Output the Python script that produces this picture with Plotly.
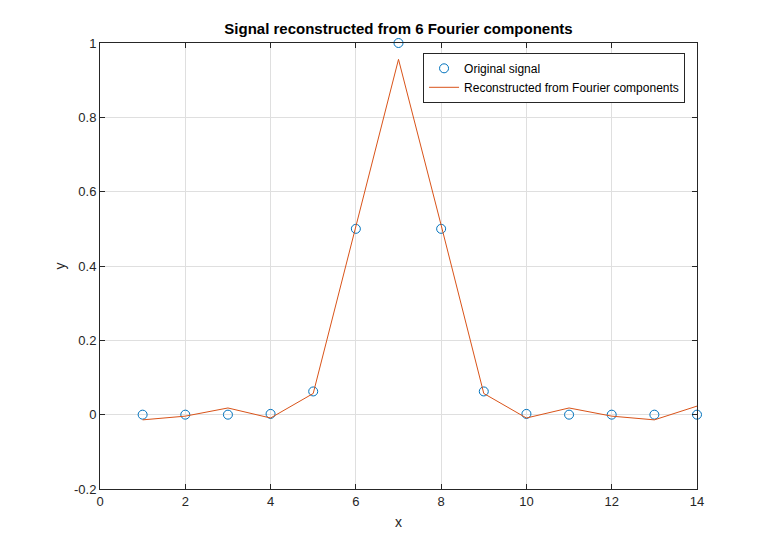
import plotly.graph_objects as go

x_vals = list(range(1, 15))
original = [0, 0, 0, 0.002, 0.0625, 0.5, 1.0, 0.5, 0.0625, 0.002, 0, 0, 0, 0]
reconstructed = [-0.014, -0.004, 0.018, -0.009, 0.057, 0.51, 0.956, 0.51, 0.057, -0.009, 0.018, -0.004, -0.014, 0.023]

x_ticks = [0, 2, 4, 6, 8, 10, 12, 14]
x_ticklabels = ["0", "2", "4", "6", "8", "10", "12", "14"]
y_ticks = [-0.2, 0, 0.2, 0.4, 0.6, 0.8, 1]
y_ticklabels = ["-0.2", "0", "0.2", "0.4", "0.6", "0.8", "1"]

axis_color = "#262626"
font_family = "Liberation Sans, Arial, sans-serif"

fig = go.Figure()
fig.add_trace(go.Scatter(
    x=x_vals, y=original, mode="markers", name="Original signal",
    marker=dict(symbol="circle-open", size=9, color="#0072BD", line=dict(width=1, color="#0072BD")),
    cliponaxis=False,
))
fig.add_trace(go.Scatter(
    x=x_vals, y=reconstructed, mode="lines", name="Reconstructed from Fourier components",
    line=dict(color="#D95319", width=1),
))

axis_common = dict(
    showline=True, linecolor=axis_color, linewidth=1, mirror="ticks",
    ticks="inside", ticklen=5, tickcolor=axis_color,
    showgrid=True, gridcolor="#DFDFDF", gridwidth=1,
    zeroline=False,
    tickfont=dict(family=font_family, size=13, color=axis_color),
)

fig.update_layout(
    width=770, height=550,
    paper_bgcolor="white", plot_bgcolor="white",
    margin=dict(l=92, r=81, t=35, b=69),
    font=dict(family=font_family, size=13, color=axis_color),
    title=dict(text="<b>Signal reconstructed from 6 Fourier components</b>",
               x=0.5, xanchor="center", y=0.963, yanchor="middle",
               xref="paper",
               font=dict(family=font_family, size=15, color="#000000")),
    xaxis=dict(range=[0, 14], tickvals=x_ticks, ticktext=x_ticklabels,
               title=dict(text="x", font=dict(size=14, color=axis_color), standoff=9),
               **axis_common),
    yaxis=dict(range=[-0.2, 1], tickvals=y_ticks, ticktext=y_ticklabels,
               title=dict(text="y", font=dict(size=14, color=axis_color), standoff=5),
               **axis_common),
    legend=dict(x=0.98, y=0.978, xanchor="right", yanchor="top",
                bgcolor="white", bordercolor=axis_color, borderwidth=1,
                font=dict(family=font_family, size=12, color="#000000"),
                tracegroupgap=0, itemwidth=30),
    showlegend=True,
)

fig.write_html("out.html")
